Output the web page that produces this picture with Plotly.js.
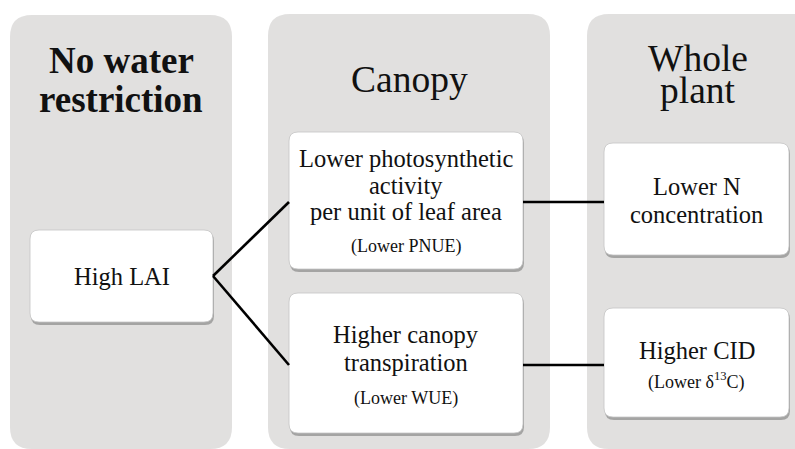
<!DOCTYPE html>
<html>
<head>
<meta charset="utf-8">
<script src="https://cdn.plot.ly/plotly-3.0.1.min.js"></script>
<style>html,body{margin:0;padding:0;background:#fff;}#chart{width:795px;height:449px;}</style>
</head>
<body>
<div id="chart"></div>
<script>
// ---- content ----
const panelTitles = [["No water", "restriction"], ["Canopy"], ["Whole", "plant"]];
const panelTitleBold = [true, false, false];
const nodeLines = [
  ["High LAI"],
  ["Lower photosynthetic", "activity", "per unit of leaf area", "(Lower PNUE)"],
  ["Higher canopy", "transpiration", "(Lower WUE)"],
  ["Lower N", "concentration"],
  ["Higher CID", "(Lower δ<sup>13</sup>C)"]
];
const links = [[0, 1], [0, 2], [1, 3], [2, 4]];

// ---- geometry (pixel-like data units) ----
const W = 795, H = 449;
const panels = [[10, 15, 232, 449], [268, 14, 550, 449], [587, 14, 815, 449]];
const titleCx = [121, 409, 698];
const titleY = [[60, 99], [79], [58, 90]];
const nodes = [
  {x0: 30, y0: 230, x1: 213, y1: 322, ly: [276], cy: 276},
  {x0: 289, y0: 132, x1: 523, y1: 269, ly: [158, 185, 211, 246], cy: 202},
  {x0: 289, y0: 293, x1: 523, y1: 433, ly: [334, 362, 398], cy: 365},
  {x0: 604, y0: 143, x1: 789, y1: 255, ly: [186, 214], cy: 202},
  {x0: 604, y0: 308, x1: 789, y1: 417, ly: [350, 381], cy: 365}
];

function rr(x0, y0, x1, y1, r) {
  return `M${x0 + r},${y0} L${x1 - r},${y0} Q${x1},${y0} ${x1},${y0 + r} L${x1},${y1 - r} Q${x1},${y1} ${x1 - r},${y1} L${x0 + r},${y1} Q${x0},${y1} ${x0},${y1 - r} L${x0},${y0 + r} Q${x0},${y0} ${x0 + r},${y0} Z`;
}

const shapes = [];
const annotations = [];
const serif = "Liberation Serif";

panels.forEach((p, i) => {
  shapes.push({type: "path", xref: "x", yref: "y", layer: "below", path: rr(p[0], p[1], p[2], p[3], 22),
    fillcolor: "#e1e0df", line: {width: 0}});
  panelTitles[i].forEach((t, j) => {
    annotations.push({x: titleCx[i], y: titleY[i][j], xref: "x", yref: "y",
      text: panelTitleBold[i] ? "<b>" + t + "</b>" : t, showarrow: false, xanchor: "center", yanchor: "middle",
      font: {family: serif, size: panelTitleBold[i] ? 37 : 37.5, color: "#111"}});
  });
});

nodes.forEach((n, i) => {
  shapes.push({type: "path", xref: "x", yref: "y", layer: "below", path: rr(n.x0 + 1, n.y0 + 2, n.x1 + 1, n.y1 + 3, 9),
    fillcolor: "rgba(90,90,90,0.45)", line: {width: 0}});
  shapes.push({type: "path", xref: "x", yref: "y", layer: "below", path: rr(n.x0, n.y0, n.x1, n.y1, 9),
    fillcolor: "#ffffff", line: {color: "#c4c4c4", width: 0.8}});
  nodeLines[i].forEach((t, j) => {
    const paren = t.charAt(0) === "(";
    annotations.push({x: (n.x0 + n.x1) / 2, y: n.ly[j], xref: "x", yref: "y", text: t, showarrow: false,
      xanchor: "center", yanchor: "middle", font: {family: serif, size: paren ? 18 : 24.5, color: "#111"}});
  });
});

const traces = links.map(([a, b]) => ({
  type: "scatter", mode: "lines", hoverinfo: "skip", showlegend: false,
  x: [nodes[a].x1, nodes[b].x0], y: [nodes[a].cy, nodes[b].cy],
  line: {color: "#000", width: 2.6}
}));

const layout = {
  width: W, height: H, margin: {l: 0, r: 0, t: 0, b: 0},
  font: {family: serif},
  paper_bgcolor: "#fff", plot_bgcolor: "#fff", showlegend: false,
  xaxis: {range: [0, W], visible: false, fixedrange: true},
  yaxis: {range: [H, 0], visible: false, fixedrange: true},
  shapes: shapes, annotations: annotations
};
Plotly.newPlot("chart", traces, layout, {staticPlot: true});
</script>
</body>
</html>
